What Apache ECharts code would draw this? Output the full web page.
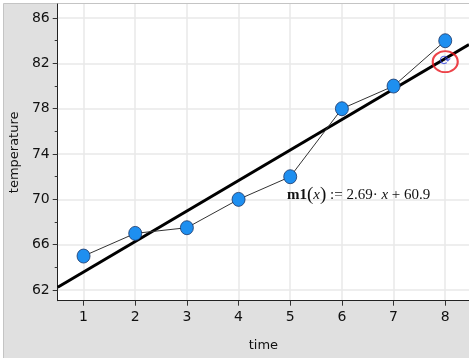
<!DOCTYPE html>
<html>
<head>
<meta charset="utf-8">
<script src="https://cdn.jsdelivr.net/npm/echarts@6/dist/echarts.min.js"></script>
<style>html,body{margin:0;padding:0;background:#fff;}#c{width:469px;height:358px;}</style>
</head>
<body>
<div id="c"></div>
<script>
var timeValues = [1, 2, 3, 4, 5, 6, 7, 8];
var temperature = [65, 67, 67.5, 70, 72, 78, 80, 84];
var xTicks = [1, 2, 3, 4, 5, 6, 7, 8];
var yTicks = [62, 66, 70, 74, 78, 82, 86];
var yMinorTicks = [64, 68, 72, 76, 80, 84];
var regX = [0.5, 8.46];
var regY = [62.25, 83.66];
var markerPoint = [8, 82.15];

var chart = echarts.init(document.getElementById('c'), null, {renderer: 'canvas'});
var font = 'DejaVu Sans';
var yMin = 61.06, yMax = 87.24;
var option = {
  animation: false,
  backgroundColor: '#fff',
  graphic: [
    {type: 'rect', z: -10, shape: {x: 3.5, y: 3.5, width: 470, height: 360}, style: {fill: '#e0e0e0', stroke: '#c4c4c4', lineWidth: 1}},
    {type: 'text', left: 287, top: 186, z: 100, style: {
      rich: {
        b: {fontFamily: 'Liberation Serif', fontWeight: 'bold', fontSize: 15, fill: '#111'},
        p: {fontFamily: 'Liberation Serif', fontSize: 19, fill: '#111'},
        i: {fontFamily: 'Liberation Serif', fontStyle: 'italic', fontSize: 15, fill: '#111'},
        n: {fontFamily: 'Liberation Serif', fontSize: 15, fill: '#111'}
      },
      text: '{b|m1}{p|(}{i|x}{p|)}{n| := 2.69· }{i|x}{n| + 60.9}'
    }}
  ],
  grid: {left: 57, right: 0, top: 4, bottom: 57.3, show: true, backgroundColor: '#fff', borderWidth: 0},
  xAxis: {
    type: 'value', min: 0.5, max: 8.46,
    name: 'time', nameLocation: 'middle', nameGap: 38,
    nameTextStyle: {fontFamily: font, fontSize: 13, color: '#111'},
    axisLine: {show: true, lineStyle: {color: '#222', width: 1}},
    axisTick: {show: true, length: 5, customValues: xTicks, lineStyle: {color: '#333'}},
    axisLabel: {customValues: xTicks, fontFamily: font, fontSize: 14, color: '#111', margin: 10},
    splitLine: {show: true, lineStyle: {color: '#e8e8e8', width: 1.5}}
  },
  yAxis: [{
    type: 'value', min: yMin, max: yMax,
    name: 'temperature', nameLocation: 'middle', nameGap: 35,
    nameTextStyle: {fontFamily: font, fontSize: 13, color: '#111'},
    axisLine: {show: true, lineStyle: {color: '#222', width: 1}},
    axisTick: {show: true, length: 5, customValues: yTicks, lineStyle: {color: '#333'}},
    axisLabel: {customValues: yTicks, fontFamily: font, fontSize: 14, color: '#111', margin: 8},
    splitLine: {show: true, lineStyle: {color: '#e8e8e8', width: 1.5}}
  }, {
    type: 'value', min: yMin, max: yMax, position: 'left',
    axisLine: {show: false},
    axisTick: {show: true, length: 3, customValues: yMinorTicks, lineStyle: {color: '#333'}},
    axisLabel: {show: false},
    splitLine: {show: false}
  }],
  series: [
    {
      type: 'line', z: 3,
      data: regX.map(function (x, i) { return [x, regY[i]]; }),
      symbol: 'none', lineStyle: {color: '#000', width: 3}, silent: true
    },
    {
      type: 'line', z: 4,
      data: timeValues.map(function (x, i) { return [x, temperature[i]]; }),
      symbol: 'circle', symbolSize: [13, 14],
      itemStyle: {color: '#1e8ff0', borderColor: '#1a3566', borderWidth: 0.8},
      lineStyle: {color: '#333', width: 1}
    },
    {
      type: 'scatter', z: 5,
      data: [markerPoint],
      symbol: 'circle', symbolSize: [25, 21],
      itemStyle: {color: 'rgba(0,0,0,0)', borderColor: '#e8141c', borderWidth: 2},
      label: {show: true, position: 'inside', formatter: '\u27F3', color: '#3344dd', fontSize: 14, fontFamily: font}
    }
  ]
};
chart.setOption(option);
</script>
</body>
</html>
